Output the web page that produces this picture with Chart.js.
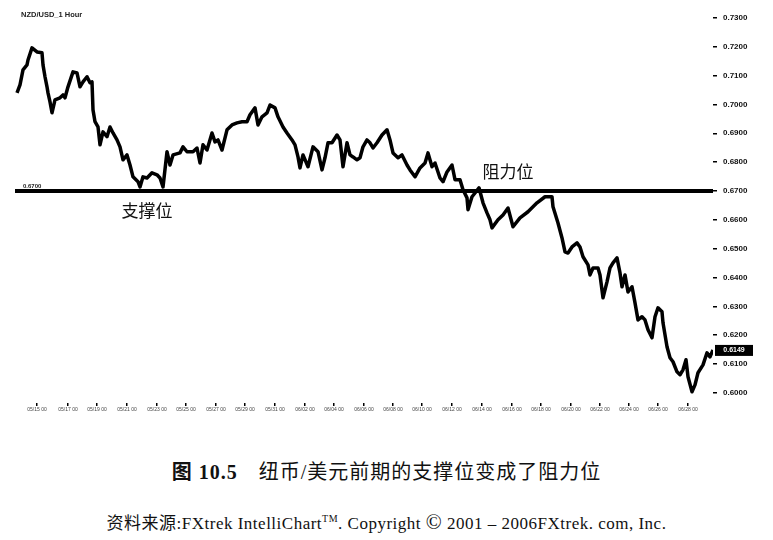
<!DOCTYPE html>
<html>
<head>
<meta charset="utf-8">
<script src="https://cdn.jsdelivr.net/npm/chart.js@4.4.1/dist/chart.umd.min.js"></script>
<style>
  body { margin: 0; background: #fff; width: 773px; height: 540px; position: relative; overflow: hidden; }
  #wrap { position: absolute; left: 0; top: 0; width: 773px; height: 425px; }
  .cap { position: absolute; left: 0; width: 773px; text-align: center; color: #111; white-space: nowrap; }
  #cap1 { top: 456px; font-size: 20px; font-family: "Liberation Serif", "Noto Sans CJK SC", serif; letter-spacing: 1px; }
  #cap2 { top: 509px; font-size: 17px; font-family: "Liberation Serif", "Noto Sans CJK SC", serif; letter-spacing: 0.5px; }
  sup { font-size: 10px; }
</style>
</head>
<body>
<div id="wrap"><canvas id="grafic"></canvas></div>
<div class="cap" id="cap1"><b>图 10.5</b>&emsp;纽币/美元前期的支撑位变成了阻力位</div>
<div class="cap" id="cap2">资料来源:FXtrek IntelliChart<sup>TM</sup>. Copyright <span style="font-size:21px">©</span> 2001 – 2006FXtrek. com, Inc.</div>
<script>
// barra (hora) i preu de tancament llegits del gràfic
const bars = [
  2, 5, 8, 12, 13, 17, 22, 27, 28, 30,
  32, 33, 35, 37, 40, 45, 48, 50, 53, 58,
  62, 65, 68, 72, 75, 77, 78, 80, 83, 85,
  88, 92, 95, 98, 102, 105, 108, 112, 115, 118,
  123, 125, 128, 132, 137, 142, 145, 148, 152, 155,
  158, 165, 168, 172, 178, 182, 185, 188, 192, 197,
  200, 203, 207, 212, 217, 222, 227, 232, 235, 240,
  243, 247, 252, 255, 260, 263, 268, 272, 277, 280,
  283, 285, 288, 293, 298, 303, 307, 310, 313, 317,
  322, 325, 328, 332, 335, 338, 342, 345, 348, 352,
  355, 358, 362, 367, 372, 375, 378, 383, 387, 392,
  395, 400, 405, 410, 413, 417, 420, 425, 428, 432,
  437, 440, 445, 448, 452, 453, 457, 460, 464, 468,
  472, 475, 477, 483, 488, 493, 498, 505, 513, 522,
  530, 537, 538, 543, 547, 550, 553, 557, 562, 565,
  568, 573, 575, 578, 583, 585, 588, 592, 595, 598,
  602, 605, 607, 610, 613, 617, 620, 623, 627, 630,
  633, 637, 640, 643, 647, 648, 652, 655, 658, 662,
  665, 668, 671, 673, 677, 680, 683, 688, 692, 695,
  698
];
const closes = [
  0.7040, 0.7068, 0.7120, 0.7137, 0.7154, 0.7196, 0.7182, 0.7179, 0.7137, 0.7096,
  0.7061, 0.7040, 0.7009, 0.6971, 0.7016, 0.7023, 0.7033, 0.7023, 0.7061, 0.7113,
  0.7109, 0.7061, 0.7078, 0.7096, 0.7075, 0.7078, 0.6981, 0.6940, 0.6922, 0.6860,
  0.6905, 0.6888, 0.6922, 0.6901, 0.6877, 0.6853, 0.6808, 0.6825, 0.6790, 0.6749,
  0.6732, 0.6714, 0.6749, 0.6745, 0.6763, 0.6756, 0.6745, 0.6714, 0.6836, 0.6790,
  0.6825, 0.6832, 0.6853, 0.6836, 0.6836, 0.6849, 0.6797, 0.6860, 0.6842, 0.6901,
  0.6870, 0.6877, 0.6842, 0.6912, 0.6929, 0.6936, 0.6940, 0.6940, 0.6964, 0.6988,
  0.6929, 0.6957, 0.6971, 0.6998, 0.6988, 0.6957, 0.6922, 0.6901, 0.6877, 0.6860,
  0.6818, 0.6780, 0.6825, 0.6784, 0.6853, 0.6836, 0.6773, 0.6815, 0.6867, 0.6867,
  0.6894, 0.6877, 0.6784, 0.6867, 0.6825, 0.6818, 0.6808, 0.6815, 0.6853, 0.6877,
  0.6867, 0.6849, 0.6867, 0.6894, 0.6912, 0.6877, 0.6832, 0.6815, 0.6825, 0.6790,
  0.6773, 0.6749, 0.6780, 0.6797, 0.6832, 0.6784, 0.6797, 0.6745, 0.6732, 0.6766,
  0.6790, 0.6739, 0.6739, 0.6704, 0.6676, 0.6635, 0.6680, 0.6693, 0.6711, 0.6659,
  0.6624, 0.6600, 0.6572, 0.6600, 0.6617, 0.6641, 0.6576, 0.6607, 0.6628, 0.6659,
  0.6680, 0.6680, 0.6645, 0.6589, 0.6537, 0.6489, 0.6485, 0.6506, 0.6520, 0.6506,
  0.6472, 0.6444, 0.6409, 0.6433, 0.6433, 0.6409, 0.6330, 0.6385, 0.6433, 0.6451,
  0.6468, 0.6416, 0.6368, 0.6409, 0.6350, 0.6368, 0.6312, 0.6253, 0.6264, 0.6253,
  0.6219, 0.6191, 0.6264, 0.6295, 0.6281, 0.6243, 0.6160, 0.6122, 0.6108, 0.6073,
  0.6063, 0.6080, 0.6115, 0.6056, 0.6004, 0.6028, 0.6070, 0.6097, 0.6139, 0.6125,
  0.6149
];

// eixos
const yTicks = [0.73, 0.72, 0.71, 0.70, 0.69, 0.68, 0.67, 0.66, 0.65, 0.64, 0.63, 0.62, 0.61, 0.60];
const xTickBars = [22, 53, 82, 112, 142, 171, 201, 230, 260, 290, 319, 349, 378, 407, 437, 467, 497, 526, 556, 585, 614, 643, 673];
const xTickLabels = ['05/15 00', '05/17 00', '05/19 00', '05/21 00', '05/23 00', '05/25 00', '05/27 00', '05/29 00',
  '05/31 00', '06/02 00', '06/04 00', '06/06 00', '06/08 00', '06/10 00', '06/12 00', '06/14 00', '06/16 00',
  '06/18 00', '06/20 00', '06/22 00', '06/24 00', '06/26 00', '06/28 00'];

// línia suport / resistència
const nivell = 0.67;
const nivellBars = [0, 698];

const seriePreu = bars.map((b, i) => ({ x: b, y: closes[i] }));
const serieNivell = nivellBars.map(b => ({ x: b, y: nivell }));

const textos = {
  id: 'textos',
  afterDraw(chart) {
    const ctx = chart.ctx;
    const xs = chart.scales.x, ys = chart.scales.y;
    const area = chart.chartArea;
    ctx.save();
    ctx.fillStyle = '#222';
    ctx.textBaseline = 'middle';

    // capçalera del símbol
    ctx.font = 'bold 7.5px "Liberation Sans", sans-serif';
    ctx.textAlign = 'left';
    ctx.fillText('NZD/USD_1 Hour', area.left + 6, 15);

    // etiqueta petita sobre la línia
    ctx.font = 'bold 6px "Liberation Sans", sans-serif';
    ctx.fillText(nivell.toFixed(4), area.left + 8, ys.getPixelForValue(nivell) - 5);

    // suport i resistència
    ctx.font = '17px "Noto Sans CJK SC", sans-serif';
    ctx.fillStyle = '#111';
    ctx.textAlign = 'center';
    ctx.fillText('支撑位', xs.getPixelForValue(132), ys.getPixelForValue(0.6632));
    ctx.fillText('阻力位', xs.getPixelForValue(493), ys.getPixelForValue(0.6767));

    // últim preu
    const ultim = closes[closes.length - 1];
    const py = ys.getPixelForValue(ultim);
    ctx.fillStyle = '#000';
    ctx.fillRect(area.right + 2, py - 5, 38, 11);
    ctx.fillStyle = '#fff';
    ctx.font = 'bold 7px "Liberation Sans", sans-serif';
    ctx.fillText(ultim.toFixed(4), area.right + 21, py + 0.5);
    ctx.restore();
  }
};

new Chart(document.getElementById('grafic'), {
  type: 'line',
  data: {
    datasets: [
      {
        data: serieNivell,
        borderColor: '#000',
        borderWidth: 4,
        pointRadius: 0
      },
      {
        data: seriePreu,
        borderColor: '#000',
        borderWidth: 3.5,
        borderJoinStyle: 'round',
        pointRadius: 0,
        tension: 0
      }
    ]
  },
  options: {
    responsive: true,
    maintainAspectRatio: false,
    animation: false,
    layout: { padding: { left: 15, top: 15, right: 0, bottom: 0 } },
    plugins: { legend: { display: false }, tooltip: { enabled: false } },
    scales: {
      x: {
        type: 'linear',
        min: 0,
        max: 698,
        afterBuildTicks: s => { s.ticks = xTickBars.map(v => ({ value: v })); },
        afterFit: s => { s.height = 22; },
        grid: { drawOnChartArea: false, drawTicks: true, tickLength: 3, color: '#000', lineWidth: 1.5 },
        border: { display: false },
        ticks: {
          autoSkip: false,
          maxRotation: 0,
          padding: 1,
          color: '#444',
          font: { size: 5, family: 'Liberation Sans' },
          callback: (v, i) => xTickLabels[i]
        }
      },
      y: {
        position: 'right',
        min: 0.5965,
        max: 0.7310,
        afterBuildTicks: s => { s.ticks = yTicks.map(v => ({ value: v })); },
        afterFit: s => { s.width = 60; },
        grid: { drawOnChartArea: false, drawTicks: true, tickLength: 4, color: '#000', lineWidth: 1.5 },
        border: { display: false },
        ticks: {
          padding: 6,
          color: '#111',
          font: { size: 8, weight: 'bold', family: 'Liberation Sans' },
          callback: v => v.toFixed(4)
        }
      }
    }
  },
  plugins: [textos]
});
</script>
</body>
</html>
